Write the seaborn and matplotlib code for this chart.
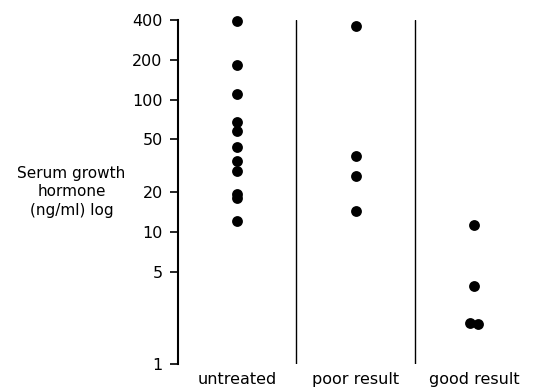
import numpy as np
import pandas as pd
import matplotlib
matplotlib.use("Agg")
import matplotlib.pyplot as plt
from matplotlib.ticker import FixedLocator, NullLocator, FixedFormatter
import seaborn as sns

categories = ["untreated", "poor result", "good result"]
untreated = [392, 184, 111, 68, 58, 44, 34.5, 29, 19.4, 18.1, 12.1]
poor_result = [359, 37.6, 26.6, 14.4]
good_result = [11.2, 3.9, 2.05, 2.0]
y_ticks = [1, 5, 10, 20, 50, 100, 200, 400]
y_label = "Serum growth\nhormone\n(ng/ml) log"

df = pd.DataFrame({
    "group": [categories[0]] * len(untreated) + [categories[1]] * len(poor_result)
             + [categories[2]] * len(good_result),
    "value": untreated + poor_result + good_result,
})

sns.set_theme(style="white")
plt.rcParams["font.family"] = ["DejaVu Sans"]

fig = plt.figure(figsize=(5.33, 3.88), dpi=100)
ax = fig.add_axes([178 / 533, 1 - 364 / 388, 355 / 533, 344 / 388])

sns.stripplot(data=df, x="group", y="value", order=categories, jitter=False,
              color="black", size=7.8, linewidth=0, ax=ax)

# spread near ties sideways so both dots are visible
for coll in ax.collections:
    coll.set_clip_on(False)
    offs = coll.get_offsets()
    if len(offs) == 0:
        continue
    ys = np.asarray(offs[:, 1], dtype=float)
    for i in range(len(ys)):
        for j in range(i + 1, len(ys)):
            if abs(np.log10(ys[i]) - np.log10(ys[j])) < 0.02:
                offs[i, 0] -= 0.035
                offs[j, 0] += 0.035
    coll.set_offsets(offs)

ax.set_yscale("log")
ax.set_ylim(1, 400)
ax.set_xlim(-0.5, 2.5)
ax.yaxis.set_major_locator(FixedLocator(y_ticks))
ax.yaxis.set_major_formatter(FixedFormatter([str(t) for t in y_ticks]))
ax.yaxis.set_minor_locator(NullLocator())

for xpos in [0.5, 1.5]:
    ax.axvline(xpos, color="black", linewidth=1.0)

for side in ["top", "right", "bottom"]:
    ax.spines[side].set_visible(False)
ax.spines["left"].set_color("black")
ax.spines["left"].set_linewidth(1.5)

ax.tick_params(axis="y", which="major", left=True, length=6, width=1.2,
               color="black", pad=5, labelsize=11.5, labelcolor="black")
ax.tick_params(axis="x", length=0, pad=6, labelsize=11.5, labelcolor="black")
ax.set_xlabel("")
ax.set_ylabel(y_label, rotation=0, ha="center", va="center", fontsize=11,
              color="black", multialignment="center", linespacing=1.3)
ax.yaxis.set_label_coords(-0.30, 0.50)

fig.savefig("out.png", dpi=100)
